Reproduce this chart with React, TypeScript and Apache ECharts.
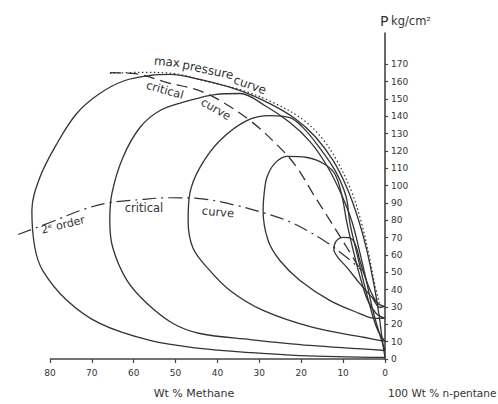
import React, { useEffect, useRef } from "react";
import * as echarts from "echarts";

// Pressure–composition loops for methane / n-pentane (x: wt % methane, y: P kg/cm²)
// Each loop is listed from its low-pressure end at 0 % methane, round the left
// (dew) side, over the top and back down the bubble side.
const loop1: [number, number][] = [
  [0, 30.3], [1.2, 29.7], [3.1, 35.5], [6.0, 43.5], [9.1, 52.8], [11.2, 58.5],
  [12.2, 63.1], [11.7, 67.8], [10.0, 70.1], [8.1, 69.5], [6.9, 64.9], [6.0, 56.8],
  [4.8, 47.6], [3.3, 38.4], [1.7, 32.0], [0, 30.3],
];
const loop2: [number, number][] = [
  [0, 23.4], [2.4, 23.4], [6.0, 26.2], [13.1, 33.7], [20.3, 45.3], [25.1, 56.8],
  [27.9, 68.3], [29.1, 85.6], [28.9, 94.3], [28.2, 104.7], [26.3, 112.8],
  [23.4, 116.8], [18.6, 116.2], [14.3, 112.2], [11.9, 106.4], [10.3, 94.3],
  [9.1, 78.7], [7.4, 60.8], [5.7, 45.3], [4.1, 33.7], [2.1, 26.2], [0, 23.4],
];
const loop3: [number, number][] = [
  [0, 10.1], [4.8, 12.4], [17.2, 18.2], [29.1, 28.0], [37.0, 39.5], [42.5, 52.8],
  [45.9, 64.3], [47.0, 79.9], [46.6, 95.4], [44.2, 110.4], [39.4, 126.0],
  [33.0, 137.5], [27.5, 140.4], [22.7, 139.2], [19.8, 134.0], [16.0, 123.1],
  [11.9, 108.6], [9.3, 93.7], [8.4, 78.7], [6.7, 60.8], [5.0, 43.5], [3.3, 28.0],
  [1.7, 16.4], [0, 10.1],
];
const loop4: [number, number][] = [
  [0, 4.9], [17.9, 7.8], [32.2, 11.2], [44.2, 14.7], [50.6, 20.5], [56.8, 32.0],
  [61.6, 45.3], [65.0, 64.3], [65.7, 79.9], [65.2, 95.4], [62.6, 116.1],
  [58.5, 133.5], [53.7, 143.3], [46.6, 149.1], [40.6, 152.5], [34.6, 153.1],
  [28.7, 146.2], [22.7, 136.4], [17.9, 125.4], [13.9, 111.6], [10.5, 95.4],
  [7.9, 79.3], [6.0, 61.4], [4.3, 43.5], [2.9, 28.0], [1.4, 15.3], [0, 4.9],
];
const loop5: [number, number][] = [
  [0, 0.9], [20.3, 2.0], [32.2, 3.7], [44.2, 6.1], [56.1, 10.7], [68.1, 20.5],
  [75.9, 33.7], [81.7, 51.0], [83.6, 64.3], [84.3, 85.6], [82.4, 104.7],
  [78.3, 124.3], [73.6, 141.6], [68.1, 153.1], [62.1, 160.6], [56.1, 163.5],
  [51.3, 164.1], [44.2, 161.2], [34.6, 154.8], [27.5, 147.3], [21.5, 138.7],
  [16.7, 128.3], [12.4, 114.5], [9.1, 98.8], [6.4, 80.9], [4.3, 62.4],
  [2.6, 42.4], [1.4, 25.1], [0.7, 11.8], [0, 0.9],
];

// Envelope of the loops' highest pressures
const maxPressureCurve: [number, number][] = [
  [65.7, 164.7], [58.5, 165.3], [50.6, 164.7], [42.5, 160.0], [34.6, 155.4],
  [26.7, 147.9], [19.6, 138.1], [15.0, 127.2], [11.5, 114.5], [8.1, 97.2],
  [5.7, 79.3], [3.8, 59.6], [2.4, 42.4], [1.2, 30.9],
];
// Locus of critical points
const criticalCurve: [number, number][] = [
  [65.6, 165.1], [59.7, 164.6], [52.0, 159.4], [45.8, 155.9], [40.6, 150.7],
  [32.2, 137.5], [25.1, 121.9], [21.0, 110.4], [17.2, 95.4], [13.1, 79.8],
  [9.1, 64.3], [5.5, 49.9],
];
// Second-order critical curve
const secondOrderCurve: [number, number][] = [
  [87.6, 71.8], [80.0, 78.7], [72.1, 86.2], [65.6, 90.2], [58.5, 91.9],
  [51.3, 93.0], [44.2, 92.5], [35.3, 88.5], [29.1, 84.4], [23.4, 79.8],
  [18.6, 74.1], [13.8, 67.1], [9.1, 58.5], [5.5, 51.0],
];

// Composition axis runs 80 → 0 % methane; the frame leaves room for the
// loops that bulge past 80 %.
const xTicks = [0, 10, 20, 30, 40, 50, 60, 70, 80];
const xBaseline: [number, number][] = [[0, 0], [80, 0]];
const yTicks = [0, 10, 20, 30, 40, 50, 60, 70, 80, 90, 100, 110, 120, 130, 140, 150, 160, 170];

const INK = "#333333";
const AXIS = "#444444";
const FONT = "DejaVu Sans";
const deg = (d: number) => (d * Math.PI) / 180;

function curve(name: string, data: [number, number][], type: any, width = 1.3, smooth: number = 0.35, color = INK) {
  return {
    name,
    type: "line",
    data,
    showSymbol: false,
    smooth,
    clip: false,
    silent: true,
    lineStyle: { color, width, type },
  };
}

function label(text: string, x: number, y: number, rotDeg: number, size = 11.5) {
  return {
    type: "text",
    x,
    y,
    rotation: deg(rotDeg),
    style: {
      text,
      fill: INK,
      font: `${size}px "${FONT}"`,
      align: "center",
      verticalAlign: "middle",
    },
  };
}

export default function App() {
  const ref = useRef<HTMLDivElement>(null);

  useEffect(() => {
    if (!ref.current) return;
    const chart = echarts.init(ref.current, undefined, { renderer: "svg" });
    chart.setOption({
      animation: false,
      backgroundColor: "#ffffff",
      grid: { left: 8, right: 113, top: 33, bottom: 45, containLabel: false },
      xAxis: {
        type: "value",
        min: 0,
        max: 90,
        interval: 10,
        inverse: true,
        splitLine: { show: false },
        axisLine: { show: false },
        axisTick: { show: true, customValues: xTicks, length: 4, lineStyle: { color: AXIS, width: 1.2 } },
        axisLabel: {
          customValues: xTicks,
          color: INK,
          fontFamily: FONT,
          fontSize: 9,
          margin: 9,
        },
      },
      yAxis: {
        type: "value",
        position: "right",
        min: 0,
        max: 188,
        interval: 10,
        splitLine: { show: false },
        axisLine: { show: true, lineStyle: { color: AXIS, width: 1.6 } },
        axisTick: { show: true, customValues: yTicks, length: 3, lineStyle: { color: AXIS, width: 1.2 } },
        axisLabel: {
          customValues: yTicks,
          color: INK,
          fontFamily: FONT,
          fontSize: 9,
          margin: 6,
        },
      },
      series: [
        curve("baseline", xBaseline, "solid", 1.6, 0, AXIS),
        curve("loop1", loop1, "solid"),
        curve("loop2", loop2, "solid"),
        curve("loop3", loop3, "solid"),
        curve("loop4", loop4, "solid"),
        curve("loop5", loop5, "solid"),
        curve("max pressure curve", maxPressureCurve, [1.5, 2.5], 1.2),
        curve("critical curve", criticalCurve, [11, 6], 1.3),
        curve("2e order critical curve", secondOrderCurve, [14, 5, 2, 5], 1.2),
      ],
      graphic: [
        label("max", 167, 62, -5, 12),
        label("pressure", 208, 70, -12, 12),
        label("curve", 250, 85, -20, 12),
        label("critical", 165, 90, -16, 11.5),
        label("curve", 216, 109, -30, 11.5),
        label("2ᵉ order", 63, 225, 14, 11),
        label("critical", 144, 208, 0, 11.5),
        label("curve", 218, 212, -5, 11.5),
        {
          type: "text",
          x: 380,
          y: 21,
          style: { text: "P", fill: INK, font: `14px "${FONT}"`, align: "left", verticalAlign: "middle" },
        },
        {
          type: "text",
          x: 391,
          y: 21,
          style: { text: "kg/cm²", fill: INK, font: `11.5px "${FONT}"`, align: "left", verticalAlign: "middle" },
        },
        {
          type: "text",
          x: 194,
          y: 393,
          style: { text: "Wt % Methane", fill: INK, font: `11px "${FONT}"`, align: "center", verticalAlign: "middle" },
        },
        {
          type: "text",
          x: 388,
          y: 393,
          style: { text: "100 Wt % n-pentane", fill: INK, font: `10.5px "${FONT}"`, align: "left", verticalAlign: "middle" },
        },
      ],
    });
    return () => chart.dispose();
  }, []);

  return (
    <div
      ref={ref}
      style={{ position: "fixed", left: 0, top: 0, width: 498, height: 404, background: "#fff" }}
    />
  );
}
